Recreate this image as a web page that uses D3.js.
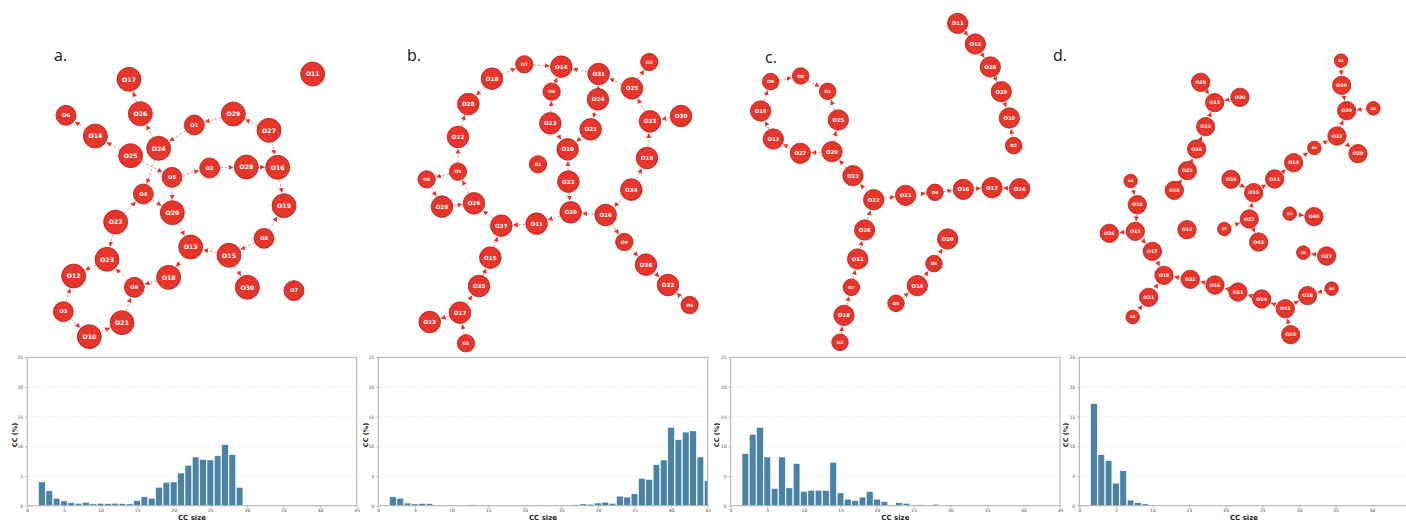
<!DOCTYPE html>
<html>
<head>
<meta charset="utf-8">
<script src="https://cdn.jsdelivr.net/npm/d3@7"></script>
<style>
  body { margin: 0; background: #fff; }
  svg { display: block; }
</style>
</head>
<body>
<div id="figure"></div>
<script>
// node lists: [name, layoutX, layoutY, sizeClass]  (layout space 0..930 per panel)
var nodesA = [
  ["O17",267,118,2],["O11",818,102,2],["O26",301,221,2],["O6",78,226,1],["O14",166,288,2],
  ["O1",463,255,1],["O29",580,222,2],["O27",687,271,2],["O25",272,347,2],["O24",356,325,2],
  ["O5",396,412,1],["O2",509,384,1],["O28",619,381,2],["O16",713,382,2],["O4",310,462,1],
  ["O20",397,518,2],["O19",732,497,2],["O22",227,546,2],["O8",672,595,1],["O13",452,621,2],
  ["O15",567,646,2],["O23",201,658,2],["O12",101,708,2],["O18",386,712,2],["O9",283,742,1],
  ["O30",622,742,2],["O7",762,752,1],["O3",70,815,1],["O21",246,848,2],["O10",148,890,2]
];
var linksA = [
  ["O26","O17"],["O14","O6"],["O25","O14"],["O24","O26"],["O1","O24"],["O29","O1"],
  ["O27","O29"],["O27","O16"],["O25","O5"],["O5","O2"],["O2","O28"],["O28","O16"],
  ["O16","O19"],["O8","O19"],["O8","O15"],["O15","O13"],["O15","O30"],["O24","O4"],
  ["O4","O20"],["O5","O20"],["O20","O13"],["O22","O4"],["O22","O23"],["O13","O18"],
  ["O18","O9"],["O9","O23"],["O23","O12"],["O3","O12"],["O3","O10"],["O10","O21"],["O21","O9"]
];

var nodesB = [
  ["O7",373,73,1],["O14",484,80,2],["O31",596,102,2],["O2",748,66,1],["O18",276,116,2],
  ["O6",455,155,1],["O24",594,178,2],["O25",696,145,2],["O28",205,192,2],["O23",451,250,2],
  ["O21",572,268,2],["O33",750,244,2],["O30",843,228,2],["O12",174,291,2],["O10",503,328,2],
  ["O19",741,354,2],["O1",414,373,1],["O5",174,395,1],["O8",80,418,1],["O22",505,425,2],
  ["O34",694,449,2],["O29",126,500,2],["O26",222,490,2],["O20",512,517,2],["O16",617,525,2],
  ["O11",410,551,2],["O27",304,557,2],["O9",673,606,1],["O15",271,653,2],["O36",738,674,2],
  ["O35",237,738,2],["O32",804,735,2],["O4",869,795,1],["O17",180,818,2],["O13",89,846,2],
  ["O3",198,910,1]
];
var linksB = [
  ["O18","O7"],["O7","O14"],["O31","O14"],["O6","O14"],["O23","O6"],["O24","O31"],
  ["O25","O31"],["O25","O2"],["O33","O25"],["O30","O33"],["O19","O33"],["O34","O19"],
  ["O34","O16"],["O16","O20"],["O16","O9"],["O9","O36"],["O36","O32"],["O4","O32"],
  ["O24","O21"],["O21","O10"],["O23","O10"],["O22","O10"],["O22","O20"],["O20","O11"],
  ["O11","O27"],["O27","O26"],["O26","O5"],["O5","O12"],["O5","O8"],["O8","O29"],
  ["O29","O26"],["O12","O28"],["O18","O28"],["O15","O27"],["O35","O15"],["O17","O35"],
  ["O17","O13"],["O3","O17"]
];

var nodesC = [
  ["O11",683,70,2],["O15",736,132,2],["O26",781,201,2],["O29",814,275,2],["O10",838,354,2],
  ["O2",851,437,1],["O9",122,245,1],["O8",212,228,1],["O1",293,274,1],["O19",92,333,2],
  ["O25",325,360,2],["O13",130,417,2],["O27",211,460,2],["O20",306,455,2],["O23",369,527,2],
  ["O22",431,599,2],["O21",527,586,2],["O4",615,577,1],["O16",700,568,2],["O17",786,563,2],
  ["O24",869,566,2],["O28",404,690,2],["O30",653,717,2],["O6",612,791,1],["O12",383,777,2],
  ["O14",562,857,2],["O7",364,862,1],["O5",498,910,1],["O18",342,946,2],["O3",330,1027,1]
];
var linksC = [
  ["O11","O15"],["O15","O26"],["O26","O29"],["O29","O10"],["O2","O10"],["O9","O8"],
  ["O8","O1"],["O25","O1"],["O20","O25"],["O19","O9"],["O13","O19"],["O27","O13"],
  ["O20","O27"],["O23","O20"],["O22","O23"],["O22","O21"],["O21","O4"],["O4","O16"],
  ["O16","O17"],["O24","O17"],["O28","O22"],["O12","O28"],["O7","O12"],["O18","O7"],
  ["O3","O18"],["O6","O30"],["O14","O6"],["O5","O14"]
];

var nodesD = [
  ["O1",783,62,1],["O29",362,127,2],["O30",785,136,2],["O20",480,172,2],["O13",404,188,2],
  ["O39",800,212,2],["O2",880,205,1],["O32",377,260,2],["O33",771,288,2],["O28",834,341,2],
  ["O9",703,324,1],["O36",350,327,2],["O14",641,368,2],["O23",322,392,2],["O34",453,418,2],
  ["O11",584,417,2],["O4",152,423,1],["O10",283,451,2],["O35",521,458,2],["O18",172,494,2],
  ["O3",629,521,1],["O40",702,530,2],["O27",508,537,2],["O12",321,569,2],["O7",433,567,1],
  ["O26",88,580,2],["O15",166,574,2],["O42",536,606,2],["O6",670,638,1],["O37",740,648,2],
  ["O17",217,634,2],["O19",252,706,2],["O22",331,718,2],["O16",405,735,2],["O21",474,756,2],
  ["O24",545,777,2],["O41",616,806,2],["O38",683,767,2],["O5",755,746,1],["O31",206,772,2],
  ["O25",632,884,2],["O8",158,831,1]
];
var linksD = [
  ["O1","O30"],["O30","O39"],["O2","O39"],["O33","O39"],["O33","O28"],["O9","O33"],
  ["O14","O9"],["O11","O14"],["O35","O11"],["O34","O35"],["O27","O35"],["O7","O27"],
  ["O27","O42"],["O3","O40"],["O37","O6"],["O29","O13"],["O20","O13"],["O32","O13"],
  ["O36","O32"],["O23","O36"],["O10","O23"],["O4","O18"],["O18","O15"],["O15","O26"],
  ["O15","O17"],["O17","O19"],["O22","O19"],["O16","O22"],["O21","O16"],["O24","O21"],
  ["O41","O24"],["O41","O38"],["O5","O38"],["O25","O41"],["O31","O19"],["O8","O31"]
];

// histogram values: CC (%) for CC size 2, 3, 4, ...
var histA = [4.0,2.5,1.25,0.8,0.5,0.4,0.55,0.3,0.4,0.35,0.4,0.35,0.3,0.85,1.5,1.25,3.1,3.9,4.0,5.5,6.8,8.2,7.8,7.7,8.4,10.3,8.6,3.1];
var histB = [1.5,1.25,0.45,0.3,0.35,0.35,0.1,0.1,0.05,
  0.05,0.05,0.15,0.05,0.05,0.02,0.1,0.02,0.05,0.05,
  0.02,0.1,0.05,0.05,0.1,0.05,0.15,0.3,0.25,0.45,
  0.6,0.4,1.6,1.45,2.0,4.6,4.4,6.9,7.7,13.2,
  11.1,12.4,12.6,8.2,4.2];
var histC = [8.75,12.0,13.2,8.2,2.9,8.2,3.0,7.1,2.4,2.6,2.6,2.55,7.3,2.15,1.1,0.85,1.45,2.4,1.1,0.7,0.1,0.5,0.4,0.05,0.15,0,0.25];
var histD = [17.2,8.6,7.6,3.8,5.9,0.95,0.5,0.3,0.05];
var firstSize = 2;

var xTicks = [0,5,10,15,20,25,30,35,40,45];
var yTicks = [0,5,10,15,20,25];
var panelLetters = ["a.","b.","c.","d."];

var W = 1406, H = 529;
var svg = d3.select("#figure").append("svg").attr("width", W).attr("height", H);

var defs = svg.append("defs");
defs.append("marker")
  .attr("id", "arrow")
  .attr("viewBox", "0 -3 6 6")
  .attr("refX", 6).attr("refY", 0)
  .attr("markerUnits", "userSpaceOnUse")
  .attr("markerWidth", 5).attr("markerHeight", 5)
  .attr("orient", "auto")
  .append("path")
  .attr("d", "M0,-3L6,0L0,3Z")
  .attr("fill", "#e8352b");

var nets = [
  { nodes: nodesA, links: linksA, ox: 40, oy: 40, span: 310, rBig: 12, rSmall: 10, lx: 54, ly: 61 },
  { nodes: nodesB, links: linksB, ox: 400, oy: 40, span: 310, rBig: 10.8, rSmall: 8.7, lx: 407, ly: 61 },
  { nodes: nodesC, links: linksC, ox: 730, oy: 0, span: 320, rBig: 10.2, rSmall: 8.3, lx: 765, ly: 63 },
  { nodes: nodesD, links: linksD, ox: 1080, oy: 40, span: 320, rBig: 9.2, rSmall: 6.8, lx: 1053, ly: 61 }
];

nets.forEach(function(p, i) {
  var x = d3.scaleLinear().domain([0, p.span * 3]).range([p.ox, p.ox + p.span]);
  var y = d3.scaleLinear().domain([0, p.span * 3]).range([p.oy, p.oy + p.span]);
  var r = d3.scaleOrdinal().domain([1, 2]).range([p.rSmall, p.rBig]);

  var byName = {};
  p.nodes.forEach(function(n) { byName[n[0]] = n; });

  var g = svg.append("g").attr("class", "net");

  g.append("text")
    .attr("x", p.lx).attr("y", p.ly)
    .style("font-family", "'Open Sans', 'DejaVu Sans', sans-serif")
    .style("font-size", "16px")
    .style("fill", "#111")
    .text(panelLetters[i]);

  g.append("g").selectAll("line")
    .data(p.links)
    .enter()
    .append("line")
    .each(function(d) {
      var s = byName[d[0]], t = byName[d[1]];
      var x1 = x(s[1]), y1 = y(s[2]), x2 = x(t[1]), y2 = y(t[2]);
      var dx = x2 - x1, dy = y2 - y1, len = Math.sqrt(dx * dx + dy * dy);
      var rs = r(s[3]) + 0.5, rt = r(t[3]) + 0.8;
      d3.select(this)
        .attr("x1", x1 + dx * rs / len).attr("y1", y1 + dy * rs / len)
        .attr("x2", x2 - dx * rt / len).attr("y2", y2 - dy * rt / len);
    })
    .style("stroke", "#f08a80")
    .style("stroke-width", 1)
    .style("stroke-dasharray", "2.5,2")
    .attr("marker-end", "url(#arrow)");

  var node = g.append("g").selectAll("g")
    .data(p.nodes)
    .enter()
    .append("g")
    .attr("transform", function(d) { return "translate(" + x(d[1]) + "," + y(d[2]) + ")"; });

  node.append("circle")
    .attr("r", function(d) { return r(d[3]); })
    .style("fill", "#e8352b")
    .style("stroke", "#9e2a22")
    .style("stroke-width", 0.8);

  node.append("text")
    .attr("text-anchor", "middle")
    .attr("dy", "0.35em")
    .style("font-family", "'DejaVu Sans', sans-serif")
    .style("font-weight", "bold")
    .style("font-size", function(d) { return (r(d[3]) * 0.52).toFixed(1) + "px"; })
    .style("fill", "#fff")
    .text(function(d) { return d[0]; });
});

// histograms
var hists = [
  { values: histA, x0: 27.3, labelX: 15 },
  { values: histB, x0: 378.3, labelX: 366 },
  { values: histC, x0: 730.7, labelX: 717 },
  { values: histD, x0: 1079.3, labelX: 1066 }
];
var plotW = 329.4, plotTop = 357.3, plotBottom = 505.7;

hists.forEach(function(p, i) {
  var x = d3.scaleLinear().domain([0, 45]).range([p.x0, p.x0 + plotW]);
  var y = d3.scaleLinear().domain([0, 25]).range([plotBottom, plotTop]);
  var g = svg.append("g").attr("class", "hist");

  var clipId = "clip" + i;
  defs.append("clipPath").attr("id", clipId)
    .append("rect")
    .attr("x", x(0)).attr("y", plotTop)
    .attr("width", plotW).attr("height", plotBottom - plotTop);

  g.append("g").selectAll("line")
    .data(yTicks.slice(1, -1))
    .enter()
    .append("line")
    .attr("x1", x(0)).attr("x2", x(45))
    .attr("y1", function(d) { return y(d); }).attr("y2", function(d) { return y(d); })
    .style("stroke", "#e6e6e6")
    .style("stroke-width", 0.6)
    .style("stroke-dasharray", "3,2");

  var data = p.values.map(function(v, k) { return { size: firstSize + k, pct: v }; });
  g.append("g").attr("clip-path", "url(#" + clipId + ")")
    .selectAll("rect")
    .data(data)
    .enter()
    .append("rect")
    .attr("x", function(d) { return x(d.size - 0.45); })
    .attr("width", x(0.9) - x(0))
    .attr("y", function(d) { return y(d.pct); })
    .attr("height", function(d) { return y(0) - y(d.pct); })
    .style("fill", "#4a83a6")
    .style("stroke", "#fff")
    .style("stroke-width", 0.5);

  g.append("rect")
    .attr("x", x(0)).attr("y", plotTop)
    .attr("width", plotW).attr("height", plotBottom - plotTop)
    .style("fill", "none")
    .style("stroke", "#a8a8a8")
    .style("stroke-width", 0.9);

  // ticks that would fall off the picture's right edge are left out
  var visibleTicks = xTicks.filter(function(t) { return x(t) < W - 4; });
  var xAxis = g.append("g")
    .attr("transform", "translate(0," + plotBottom + ")")
    .call(d3.axisBottom(x).tickValues(visibleTicks).tickSize(2).tickPadding(1.5));
  var yAxis = g.append("g")
    .attr("transform", "translate(" + x(0) + ",0)")
    .call(d3.axisLeft(y).tickValues(yTicks).tickSize(2).tickPadding(2));
  [xAxis, yAxis].forEach(function(a) {
    a.select(".domain").remove();
    a.selectAll(".tick line").style("stroke", "#888").style("stroke-width", 0.6);
    a.selectAll(".tick text")
      .style("font-family", "'DejaVu Sans', sans-serif")
      .style("font-size", "4.6px")
      .style("fill", "#555");
  });

  g.append("text")
    .attr("x", x(22.5)).attr("y", 519.5)
    .attr("text-anchor", "middle")
    .style("font-family", "'DejaVu Sans', sans-serif")
    .style("font-weight", "bold")
    .style("font-size", "7px")
    .style("fill", "#222")
    .text("CC size");

  g.append("text")
    .attr("transform", "translate(" + p.labelX + "," + 435 + ") rotate(-90)")
    .attr("text-anchor", "middle")
    .attr("dy", "0.35em")
    .style("font-family", "'DejaVu Sans', sans-serif")
    .style("font-weight", "bold")
    .style("font-size", "6.5px")
    .style("fill", "#222")
    .text("CC (%)");
});
</script>
</body>
</html>
